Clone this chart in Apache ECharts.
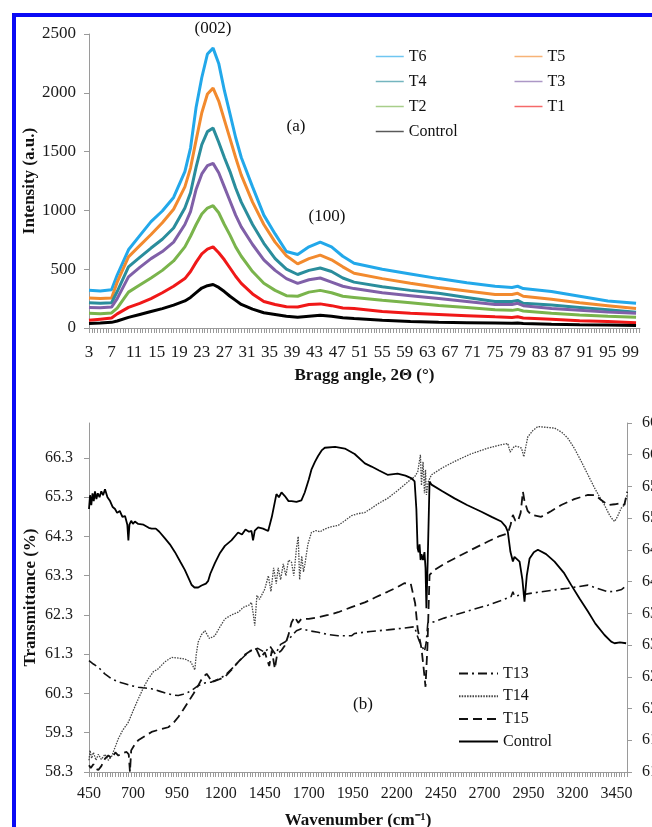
<!DOCTYPE html>
<html>
<head>
<meta charset="UTF-8">
<title>XRD and FTIR</title>
<script src="https://cdn.jsdelivr.net/npm/echarts@6/dist/echarts.min.js"></script>
<style>
  body { margin: 0; background: #fff; }
  #main { width: 652px; height: 827px; }
</style>
</head>
<body>
<div id="main"></div>
<script>
// ---- (a) XRD patterns ----
var angle = [3,5,7,8,10,12,14,16,18,20,21,22,23,24,25,26,27,28,29,30,32,34,36,38,40,42,44,46,48,50,55,60,65,70,75,78,79,80,85,90,95,100];
var T6 = [320,315,325,450,665,785,905,995,1110,1330,1530,1880,2130,2330,2380,2250,2020,1820,1620,1450,1200,960,800,650,625,690,730,690,610,550,500,460,420,385,355,345,355,335,310,270,230,210];
var T5 = [255,250,255,390,605,700,795,895,1010,1200,1360,1600,1830,1990,2040,1930,1770,1610,1450,1300,1070,880,730,615,545,590,620,580,520,465,420,380,345,315,285,285,295,270,245,215,190,165];
var T4 = [215,210,215,310,520,600,680,755,850,1020,1150,1370,1560,1670,1700,1580,1450,1330,1190,1070,880,720,590,500,455,490,510,480,425,390,350,320,295,260,225,225,235,210,195,175,155,135];
var T3 = [175,172,178,250,435,515,590,650,730,880,990,1180,1310,1380,1400,1320,1200,1080,960,860,710,580,490,420,380,410,425,390,355,335,300,275,250,225,200,200,210,190,165,150,135,125];
var T2 = [125,122,128,170,305,365,425,490,570,690,780,880,970,1020,1040,980,880,790,690,610,480,380,320,275,270,305,320,300,270,260,235,215,192,175,155,150,158,145,125,110,100,92];
var T1 = [65,75,85,120,175,210,250,300,355,420,480,560,630,670,690,640,580,510,440,380,290,225,200,180,178,200,205,190,170,165,140,125,115,105,95,90,95,85,75,62,55,45];
var controlA = [38,42,48,60,90,115,140,165,195,230,260,300,340,360,370,345,310,270,235,200,160,130,115,100,92,100,108,100,88,80,65,55,48,45,42,40,42,38,32,28,25,22];
var angleLabels = [3,7,11,15,19,23,27,31,35,39,43,47,51,55,59,63,67,71,75,79,83,87,91,95,99];

// ---- (b) FTIR spectra: [wavenumber, transmittance] ----
var T13 = [[450,61.14],[475,61.05],[503,60.97],[540,60.8],[579,60.67],[615,60.6],[655,60.55],[690,60.5],[730,60.46],[770,60.44],[806,60.42],[850,60.36],[901,60.29],[930,60.26],[958,60.25],[985,60.28],[1014,60.33],[1040,60.4],[1071,60.5],[1110,60.57],[1147,60.59],[1185,60.66],[1223,60.76],[1260,60.92],[1298,61.1],[1340,61.28],[1374,61.4],[1410,61.45],[1450,61.35],[1480,61.5],[1510,61.3],[1540,61.55],[1564,61.61],[1600,61.75],[1630,61.9],[1658,61.95],[1700,61.9],[1753,61.86],[1810,61.8],[1867,61.77],[1943,61.77],[1961,61.83],[2050,61.88],[2148,61.92],[2230,61.96],[2302,62.0],[2315,61.8],[2330,61.62],[2345,61.5],[2358,61.37],[2368,61.6],[2377,62.09],[2416,62.13],[2470,62.22],[2529,62.3],[2620,62.42],[2719,62.55],[2790,62.66],[2851,62.77],[2861,62.89],[2870,62.78],[2908,62.81],[2960,62.85],[3022,62.89],[3100,62.94],[3174,62.98],[3230,63.02],[3288,63.06],[3340,62.98],[3401,62.89],[3440,62.9],[3480,62.95],[3511,63.06]];
var T14 = [[450,58.6],[456,58.85],[465,58.65],[475,58.8],[490,58.6],[503,58.75],[520,58.62],[541,58.75],[560,58.6],[579,58.7],[600,58.95],[617,59.15],[640,59.35],[674,59.57],[700,59.85],[730,60.16],[760,60.45],[787,60.67],[815,60.85],[844,60.93],[880,61.1],[920,61.22],[960,61.2],[995,61.18],[1030,61.1],[1052,60.9],[1060,61.3],[1071,61.61],[1090,61.8],[1109,61.9],[1135,61.7],[1166,61.77],[1195,62.0],[1223,62.2],[1260,62.3],[1298,62.37],[1330,62.5],[1360,62.55],[1374,62.62],[1385,62.3],[1393,62.03],[1405,62.8],[1420,62.7],[1450,62.96],[1470,63.3],[1485,62.9],[1500,63.5],[1515,63.1],[1526,63.5],[1540,63.2],[1555,63.6],[1570,63.3],[1585,63.7],[1602,63.64],[1615,63.3],[1630,64.0],[1640,64.3],[1648,63.2],[1660,63.8],[1670,63.4],[1677,63.56],[1695,64.1],[1715,64.4],[1740,64.45],[1765,64.42],[1791,64.49],[1830,64.55],[1867,64.58],[1905,64.7],[1943,64.83],[1980,64.88],[2019,64.91],[2057,65.02],[2100,65.15],[2148,65.27],[2200,65.45],[2243,65.61],[2280,65.75],[2302,65.82],[2320,65.95],[2335,66.38],[2341,65.6],[2350,66.2],[2358,65.4],[2364,66.0],[2369,65.36],[2380,65.7],[2398,65.87],[2460,66.05],[2529,66.21],[2620,66.4],[2719,66.55],[2780,66.62],[2832,66.67],[2845,66.45],[2851,66.46],[2870,66.6],[2889,66.59],[2910,66.55],[2923,66.33],[2935,66.6],[2946,66.84],[2975,67.0],[3003,67.1],[3050,67.08],[3098,67.06],[3140,66.95],[3174,66.8],[3210,66.55],[3250,66.21],[3290,65.85],[3326,65.53],[3355,65.3],[3382,65.1],[3410,64.85],[3425,64.75],[3439,64.68],[3455,64.8],[3477,65.02],[3495,65.1],[3511,65.36]];
var T15 = [[450,58.47],[460,58.4],[475,58.5],[490,58.38],[503,58.35],[520,58.45],[541,58.64],[560,58.72],[580,58.65],[600,58.8],[617,58.72],[640,58.78],[664,58.81],[676,58.75],[683,58.3],[690,58.85],[710,59.0],[730,59.11],[770,59.22],[806,59.32],[850,59.38],[901,59.44],[930,59.55],[958,59.7],[985,59.88],[1014,60.08],[1045,60.3],[1071,60.5],[1095,60.7],[1119,60.8],[1135,60.7],[1147,60.59],[1185,60.65],[1223,60.72],[1260,60.9],[1298,61.1],[1340,61.3],[1374,61.4],[1400,61.45],[1425,61.2],[1450,61.35],[1475,61.0],[1490,61.4],[1507,60.93],[1520,61.3],[1545,61.4],[1564,61.52],[1585,61.8],[1602,62.11],[1620,62.25],[1640,62.1],[1658,62.2],[1700,62.2],[1753,62.24],[1810,62.3],[1867,62.37],[1943,62.5],[2019,62.62],[2080,62.75],[2148,62.89],[2200,63.0],[2243,63.11],[2280,63.1],[2291,63.06],[2305,62.6],[2319,61.96],[2330,61.7],[2341,61.45],[2352,61.0],[2364,60.47],[2375,61.5],[2387,63.32],[2416,63.45],[2470,63.6],[2529,63.74],[2620,63.95],[2719,64.17],[2780,64.3],[2832,64.38],[2848,64.6],[2861,64.85],[2875,64.7],[2889,64.68],[2905,64.9],[2918,65.44],[2927,65.2],[2945,64.95],[2965,64.85],[3022,64.8],[3080,64.95],[3136,65.1],[3210,65.25],[3288,65.36],[3330,65.35],[3363,65.23],[3401,65.1],[3440,65.12],[3477,65.15],[3495,65.1],[3511,65.44]];
var controlB = [[450,65.0],[456,65.35],[463,65.1],[470,65.4],[477,65.2],[484,65.45],[492,65.25],[500,65.4],[510,65.3],[520,65.45],[530,65.35],[541,65.5],[555,65.3],[570,65.2],[585,65.05],[598,65.0],[610,64.9],[625,64.95],[640,64.8],[655,64.82],[668,64.6],[674,64.2],[680,64.6],[690,64.7],[700,64.62],[711,64.68],[730,64.62],[760,64.6],[790,64.52],[806,64.5],[830,64.5],[850,64.42],[882,64.25],[910,64.1],[939,63.9],[970,63.65],[995,63.45],[1015,63.25],[1033,63.07],[1050,63.0],[1071,63.0],[1090,63.05],[1100,63.02],[1115,63.1],[1128,63.17],[1140,63.35],[1150,63.3],[1166,63.62],[1195,63.88],[1223,64.06],[1260,64.2],[1298,64.4],[1320,64.35],[1340,64.48],[1360,64.42],[1374,64.44],[1383,64.2],[1393,64.45],[1412,64.53],[1440,64.5],[1469,64.44],[1490,64.8],[1516,65.38],[1530,65.3],[1545,65.42],[1564,65.33],[1585,65.2],[1602,65.2],[1630,65.18],[1658,65.22],[1677,65.42],[1700,65.75],[1715,66.0],[1735,66.2],[1753,66.35],[1775,66.5],[1791,66.56],[1850,66.58],[1905,66.54],[1961,66.4],[2019,66.16],[2057,66.08],[2100,65.98],[2148,65.87],[2205,65.9],[2250,65.85],[2285,65.78],[2302,65.7],[2312,65.0],[2319,64.0],[2325,63.9],[2330,64.1],[2336,63.7],[2341,63.85],[2350,63.7],[2358,63.9],[2364,63.5],[2369,62.47],[2376,63.6],[2387,65.7],[2398,65.62],[2460,65.45],[2529,65.27],[2600,65.1],[2682,64.93],[2740,64.8],[2795,64.68],[2820,64.55],[2832,64.42],[2847,63.91],[2861,63.66],[2870,63.78],[2880,63.83],[2899,63.66],[2915,63.2],[2927,62.64],[2940,63.3],[2956,63.74],[2980,63.9],[3003,63.96],[3050,63.85],[3098,63.66],[3150,63.38],[3193,63.06],[3240,62.72],[3288,62.39],[3330,62.08],[3382,61.79],[3420,61.62],[3439,61.58],[3470,61.6],[3505,61.58]];
var wnLabels = [450,700,950,1200,1450,1700,1950,2200,2450,2700,2950,3200,3450];
var transLabels = [58.3,59.3,60.3,61.3,62.3,63.3,64.3,65.3,66.3];

var FONT = 'Liberation Serif';
var AXIS_GREY = '#9a9a9a';

function pairs(xs, ys) {
  return xs.map(function (x, i) { return [x, ys[i]]; });
}
function denseTicks(from, to, step) {
  var out = [];
  for (var v = from; v <= to + 1e-9; v += step) out.push(+v.toFixed(3));
  return out;
}
function plain(v) { return String(v); }
function oneDecimal(v) { return (+v).toFixed(1); }

var chart = echarts.init(document.getElementById('main'), null, { renderer: 'canvas' });

var xrdSeries = [
  { name: 'T6', data: T6, color: '#22a8ea' },
  { name: 'T5', data: T5, color: '#f28a2e' },
  { name: 'T4', data: T4, color: '#2a8d9c' },
  { name: 'T3', data: T3, color: '#8060a8' },
  { name: 'T2', data: T2, color: '#7ab44c' },
  { name: 'T1', data: T1, color: '#f01818' },
  { name: 'Control', data: controlA, color: '#000000' }
].map(function (s) {
  return {
    name: s.name, type: 'line', xAxisIndex: 0, yAxisIndex: 0,
    data: pairs(angle, s.data), symbol: 'none', color: s.color,
    lineStyle: { width: 3, color: s.color }
  };
});

var ftirSeries = [
  { name: 'T13', data: T13, width: 1.6, type: [9, 4, 2, 4], color: '#111' },
  { name: 'T14', data: T14, width: 1.3, type: [1.5, 1.2], color: '#444' },
  { name: 'T15', data: T15, width: 1.8, type: [9, 5], color: '#111' },
  { name: 'Control ', data: controlB, width: 1.8, type: 'solid', color: '#000' }
].map(function (s) {
  return {
    name: s.name, type: 'line', xAxisIndex: 1, yAxisIndex: 1,
    data: s.data, symbol: 'none', color: s.color,
    lineStyle: { width: s.width, type: s.type, color: s.color }
  };
});

var axisText = { color: '#1a1a1a', fontFamily: FONT };
var titleText = { fontFamily: FONT, fontWeight: 'bold', fontSize: 17, color: '#111' };
var hiddenMarker = { color: 'rgba(0,0,0,0)', borderColor: 'rgba(0,0,0,0)', borderWidth: 0, opacity: 0 };

var option = {
  animation: false,
  backgroundColor: '#ffffff',
  textStyle: { fontFamily: FONT },
  grid: [
    { left: 89, top: 34, width: 551, height: 294, outerBoundsMode: 'none', containLabel: false },
    { left: 89, top: 423, width: 538, height: 349, outerBoundsMode: 'none', containLabel: false }
  ],
  xAxis: [
    {
      gridIndex: 0, type: 'value', min: 3, max: 100.7,
      name: 'Bragg angle, 2\u0398 (\u00b0)', nameLocation: 'middle', nameGap: 39, nameMoveOverlap: false,
      nameTextStyle: titleText,
      axisLine: { lineStyle: { color: AXIS_GREY, width: 1 } },
      axisTick: { show: true, length: 5, customValues: denseTicks(3, 100.5, 0.5), lineStyle: { color: AXIS_GREY } },
      axisLabel: Object.assign({ fontSize: 17, margin: 16, customValues: angleLabels, formatter: plain, hideOverlap: false }, axisText),
      splitLine: { show: false }
    },
    {
      gridIndex: 1, type: 'value', min: 450, max: 3510,
      name: 'Wavenumber (cm\u207b\u00b9)', nameLocation: 'middle', nameGap: 40, nameMoveOverlap: false,
      nameTextStyle: titleText,
      axisLine: { lineStyle: { color: AXIS_GREY, width: 1 } },
      axisTick: { show: true, length: 5, customValues: denseTicks(450, 3510, 15), lineStyle: { color: AXIS_GREY } },
      axisLabel: Object.assign({ fontSize: 16, margin: 14, customValues: wnLabels, formatter: plain, hideOverlap: false }, axisText),
      splitLine: { show: false }
    }
  ],
  yAxis: [
    {
      gridIndex: 0, type: 'value', min: 0, max: 2500, interval: 500,
      name: 'Intensity (a.u.)', nameLocation: 'middle', nameGap: 51, nameMoveOverlap: false,
      nameTextStyle: titleText,
      axisLine: { show: true, lineStyle: { color: AXIS_GREY, width: 1 } },
      axisTick: { show: true, length: 5, lineStyle: { color: AXIS_GREY } },
      axisLabel: Object.assign({ fontSize: 17, margin: 13, formatter: plain }, axisText),
      splitLine: { show: false }
    },
    {
      gridIndex: 1, type: 'value', min: 58.3, max: 67.19,
      name: 'Transmittance (%)', nameLocation: 'middle', nameGap: 50, nameMoveOverlap: false,
      nameTextStyle: titleText,
      axisLine: { show: true, lineStyle: { color: AXIS_GREY, width: 1 } },
      axisTick: { show: true, length: 5, customValues: transLabels, lineStyle: { color: AXIS_GREY } },
      axisLabel: Object.assign({ fontSize: 16, margin: 16, customValues: transLabels, formatter: oneDecimal }, axisText),
      splitLine: { show: false }
    },
    {
      gridIndex: 1, type: 'value', position: 'right', min: 61, max: 66.5, interval: 0.5,
      axisLine: { show: true, lineStyle: { color: AXIS_GREY, width: 1 } },
      axisTick: { show: true, length: 5, lineStyle: { color: AXIS_GREY } },
      axisLabel: Object.assign({ fontSize: 16, margin: 15, formatter: oneDecimal, hideOverlap: false }, axisText),
      splitLine: { show: false }
    }
  ],
  legend: [
    {
      data: ['T6', 'T5', 'T4', 'T3', 'T2', 'T1', 'Control'],
      left: 375, top: 48, width: 280, orient: 'horizontal', padding: 0,
      itemWidth: 28, itemHeight: 14, itemGap: 8, selectedMode: false,
      lineStyle: { width: 1.5, opacity: 0.65 },
      itemStyle: hiddenMarker,
      textStyle: { fontFamily: FONT, fontSize: 16, lineHeight: 17, color: '#111', width: 97 }
    },
    {
      data: ['T13', 'T14', 'T15', 'Control '],
      formatter: function (n) { return n.trim(); },
      left: 458, top: 665, orient: 'vertical', padding: 0,
      itemWidth: 39, itemHeight: 14, itemGap: 5.7, selectedMode: false,
      itemStyle: hiddenMarker,
      textStyle: { fontFamily: FONT, fontSize: 16, lineHeight: 17, color: '#111' }
    }
  ],
  graphic: [
    { type: 'rect', shape: { x: 12, y: 13, width: 640, height: 4 }, style: { fill: '#0a0af5' } },
    { type: 'rect', shape: { x: 12, y: 13, width: 4, height: 814 }, style: { fill: '#0a0af5' } },
    { type: 'text', x: 213, y: 29, style: { text: '(002)', font: '17px "Liberation Serif"', fill: '#111', align: 'center', verticalAlign: 'middle' } },
    { type: 'text', x: 296, y: 127, style: { text: '(a)', font: '17px "Liberation Serif"', fill: '#111', align: 'center', verticalAlign: 'middle' } },
    { type: 'text', x: 327, y: 217, style: { text: '(100)', font: '17px "Liberation Serif"', fill: '#111', align: 'center', verticalAlign: 'middle' } },
    { type: 'text', x: 363, y: 705, style: { text: '(b)', font: '17px "Liberation Serif"', fill: '#111', align: 'center', verticalAlign: 'middle' } }
  ],
  series: xrdSeries.concat(ftirSeries)
};

chart.setOption(option);
</script>
</body>
</html>
